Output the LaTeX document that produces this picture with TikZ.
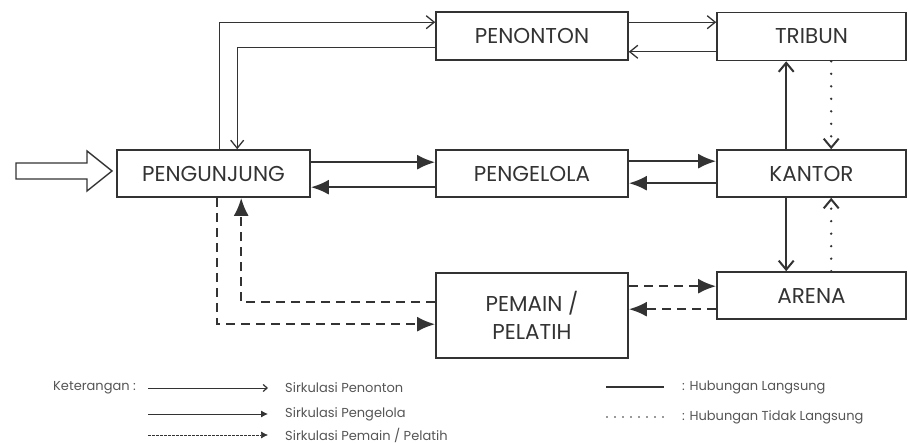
\documentclass[tikz,border=0pt]{standalone}
\usepackage{fontspec}
\setmainfont{Poppins}
\usetikzlibrary{arrows.meta}
\definecolor{ink}{HTML}{333333}
\definecolor{legtxt}{HTML}{555555}
\begin{document}
\begin{tikzpicture}[x=1pt,y=-1pt,
  box/.style={draw=ink, line width=1.6pt, minimum width=192pt, minimum height=47pt,
    inner sep=0pt, font=\fontsize{21.5}{27.5}\selectfont, text=ink, align=center},
  pen/.style={draw=ink, line width=1.3pt, -{Straight Barb[length=8pt,width=13pt,line width=1.3pt]}},
  mgr/.style={draw=ink, line width=2.4pt, -{Latex[length=18pt,width=15pt]}},
  ply/.style={draw=ink, line width=2.4pt, dash pattern=on 9pt off 6pt, -{Latex[length=18pt,width=15pt]}},
  dirl/.style={draw=ink, line width=2pt, -{Straight Barb[length=9pt,width=15pt,line width=2pt]}},
  indl/.style={draw=ink, line width=2.6pt, dash pattern=on 0pt off 12.5pt, line cap=round,
    -{Straight Barb[length=9pt,width=15pt,line width=2pt]}},
  leg/.style={font=\fontsize{13}{15}\selectfont, text=legtxt, inner sep=0pt, anchor=west}]
\useasboundingbox (0,0) rectangle (908,443);
% boxes
\node[box, minimum width=193pt] (pg) at (213.5,173.5) {PENGUNJUNG};
\node[box, minimum height=48pt] (pn) at (532,36) {PENONTON};
\node[box, minimum width=189pt, minimum height=48pt] (tr) at (811.5,36.5) {TRIBUN};
\node[box] (pe) at (532,173.5) {PENGELOLA};
\node[box, minimum width=189pt] (kt) at (811.5,173.5) {KANTOR};
\node[box, minimum height=85pt] (pm) at (532,315.5) {PEMAIN /\\PELATIH};
\node[box, minimum width=189pt] (ar) at (811.5,295.5) {ARENA};
% entry arrow
\fill[white] (16,163) -- (87,163) -- (87,151) -- (112,171) -- (87,191) -- (87,179) -- (16,179) -- cycle;
\draw[ink, line width=1.4pt, line join=miter] (16,163) -- (87,163) -- (87,151) -- (112,171) -- (87,191) -- (87,179) -- (16,179) -- cycle;
% penonton circulation
\coordinate (a1) at ([xshift=103pt]pg.north west);
\coordinate (a2) at ([yshift=-11pt]pn.north west);
\draw[pen] (a1) |- (a2);
\coordinate (b1) at ([yshift=-36pt]pn.north west);
\coordinate (b2) at ([xshift=121pt]pg.north west);
\draw[pen] (b1) -| (b2);
\coordinate (c1) at ([yshift=-11pt]pn.north east);
\draw[pen] (c1) -- (c1 -| tr.west);
\coordinate (c2) at ([yshift=9pt]pn.south east);
\draw[pen] (c2 -| tr.west) -- (c2);
% pengelola circulation
\coordinate (d1) at ([yshift=-13pt]pg.north east);
\draw[mgr] (d1) -- (d1 -| pe.west);
\coordinate (d2) at ([yshift=-38pt]pe.north west);
\draw[mgr] (d2) -- (d2 -| pg.east);
\coordinate (e1) at ([yshift=-12pt]pe.north east);
\draw[mgr] (e1) -- (e1 -| kt.west);
\coordinate (e2) at ([yshift=-34pt]kt.north west);
\draw[mgr] (e2) -- (e2 -| pe.east);
% vertical relations
\coordinate (v1) at ([xshift=70pt]kt.north west);
\coordinate (v2) at ([xshift=115pt]kt.north west);
\draw[dirl] (v1) -- (v1 |- tr.south);
\draw[indl] (v2 |- tr.south) -- (v2);
\coordinate (w1) at ([xshift=70pt]kt.south west);
\coordinate (w2) at ([xshift=115pt]kt.south west);
\draw[dirl] (w1) -- (w1 |- ar.north);
\draw[indl] (w2 |- ar.north) -- (w2);
% pemain circulation
\coordinate (f1) at ([xshift=101pt]pg.south west);
\coordinate (f2) at ([yshift=-52pt]pm.north west);
\draw[ply] (f1) |- (f2);
\coordinate (g1) at ([yshift=-30pt]pm.north west);
\coordinate (g2) at ([xshift=125pt]pg.south west);
\draw[ply] (g1) -| (g2);
\coordinate (h1) at ([yshift=-14pt]pm.north east);
\draw[ply] (h1) -- (h1 -| ar.west);
\coordinate (h2) at ([yshift=-38pt]ar.north west);
\draw[ply] (h2) -- (h2 -| pm.east);
% legend
\node[leg] (ket) at (53,388) {Keterangan :};
\coordinate (l1a) at (148,388); \coordinate (l1b) at (268,388);
\draw[draw=ink, line width=0.6pt, -{Straight Barb[length=4pt,width=7pt,line width=1.2pt]}] (l1a) -- (l1b);
\node[leg] (t1) at (285,388) {Sirkulasi Penonton};
\coordinate (l2a) at (148,414); \coordinate (l2b) at (268,414);
\draw[draw=ink, line width=0.9pt, -{Latex[length=7pt,width=7pt]}] (l2a) -- (l2b);
\node[leg] (t2) at (285,414) {Sirkulasi Pengelola};
\coordinate (l3a) at (148,435); \coordinate (l3b) at (268,435);
\draw[draw=ink, line width=0.6pt, dash pattern=on 2.5pt off 1.5pt, -{Latex[length=7pt,width=7pt]}] (l3a) -- (l3b);
\node[leg] (t3) at (285,435) {Sirkulasi Pemain / Pelatih};
\coordinate (m1a) at (606,387); \coordinate (m1b) at (664,387);
\draw[draw=ink, line width=1.6pt] (m1a) -- (m1b);
\node[leg] (u1) at (682,387) {: Hubungan Langsung};
\coordinate (m2a) at (607,417); \coordinate (m2b) at (664,417);
\draw[draw=ink, line width=1.8pt, dash pattern=on 0pt off 8pt, line cap=round] (m2a) -- (m2b);
\node[leg] (u2) at (682,417) {: Hubungan Tidak Langsung};
\end{tikzpicture}
\end{document}
